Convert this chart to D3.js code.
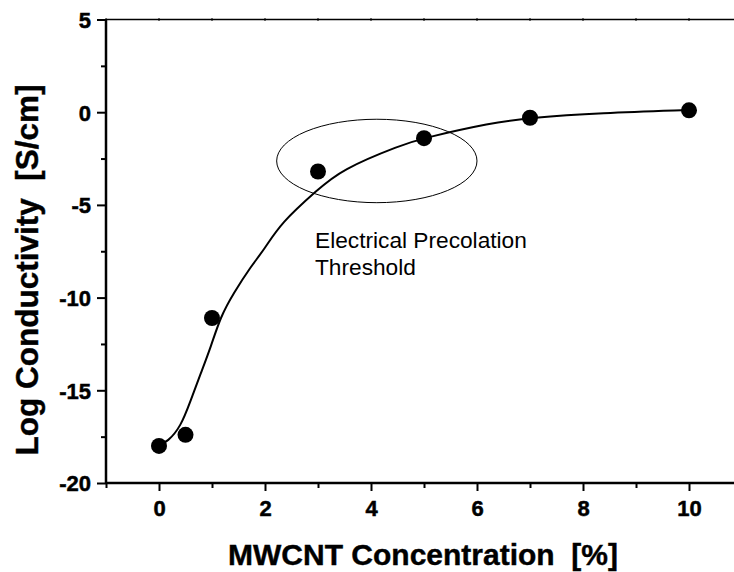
<!DOCTYPE html>
<html>
<head>
<meta charset="utf-8">
<script src="https://cdn.jsdelivr.net/npm/d3@7"></script>
<style>
  body { margin: 0; background: #fff; }
  svg { display: block; font-family: Arial, "Liberation Sans", sans-serif; }
</style>
</head>
<body>
<div id="chart"></div>
<script>
// Measured points
const conc = [0, 0.5, 1, 3, 5, 7, 10];
const logCond = [-18.0, -17.4, -11.1, -3.2, -1.4, -0.3, 0.1];

// Fitted curve
const fitX = [0, 0.16, 0.41, 0.60, 0.79, 0.98, 1.16, 1.41, 1.73, 1.98, 2.30, 2.99, 3.43, 4.57, 5.0, 6.26, 7.01, 8.33, 10.0];
const fitY = [-17.95, -17.78, -16.97, -15.53, -14.07, -12.65, -11.03, -9.75, -8.33, -7.43, -5.97, -4.19, -3.11, -1.76, -1.39, -0.58, -0.29, -0.04, 0.12];

// Tick values
const xMajor = [0, 2, 4, 6, 8, 10];
const xMinor = [-1, 1, 3, 5, 7, 9, 11];
const yMajor = [5, 0, -5, -10, -15, -20];
const yMinor = [2.5, -2.5, -7.5, -12.5, -17.5];

const width = 734, height = 572;
const fmt = d => String(d); // plain hyphen minus like the original

const x = d3.scaleLinear().domain([-1, 11]).range([106, 742]);
const y = d3.scaleLinear().domain([-20, 5]).range([483, 19.5]);

const svg = d3.select("#chart").append("svg")
    .attr("width", width)
    .attr("height", height);

// Top frame line with small ticks
svg.append("line")
    .attr("x1", x(-1)).attr("x2", x(11))
    .attr("y1", y(5)).attr("y2", y(5))
    .attr("stroke", "#000").attr("stroke-width", 1.5);
svg.append("g").selectAll("line")
    .data(xMajor.concat(xMinor))
    .join("line")
    .attr("x1", d => x(d)).attr("x2", d => x(d))
    .attr("y1", y(5) - 1.5).attr("y2", y(5) + 1.5)
    .attr("stroke", "#000").attr("stroke-width", 1);

// Bottom axis
const xAxis = svg.append("g")
    .attr("transform", `translate(0,${y(-20)})`)
    .call(d3.axisBottom(x).tickValues(xMajor).tickSize(8).tickPadding(12).tickFormat(fmt));
svg.append("g")
    .attr("transform", `translate(0,${y(-20)})`)
    .call(d3.axisBottom(x).tickValues(xMinor).tickSize(5).tickFormat(""))
    .call(g => g.select(".domain").remove());

// Left axis
const yAxis = svg.append("g")
    .attr("transform", `translate(${x(-1)},0)`)
    .call(d3.axisLeft(y).tickValues(yMajor).tickSize(9).tickPadding(6).tickFormat(fmt));
svg.append("g")
    .attr("transform", `translate(${x(-1)},0)`)
    .call(d3.axisLeft(y).tickValues(yMinor).tickSize(5).tickFormat(""))
    .call(g => g.select(".domain").remove());

svg.selectAll(".domain").attr("stroke-width", 2.5);
svg.selectAll(".tick line").attr("stroke-width", 2);
svg.selectAll(".tick text")
    .attr("fill", "#000")
    .attr("stroke", "#000")
    .attr("stroke-width", 0.5)
    .attr("font-size", 22)
    .attr("font-weight", "bold")
    .attr("font-family", "Arial, 'Liberation Sans', sans-serif");
xAxis.selectAll(".tick text").attr("dy", "0.6em");
yAxis.selectAll(".tick text").attr("dy", "0.36em");
xAxis.selectAll(".domain").attr("d", `M${x(-1)},0H${x(11)}`);
yAxis.selectAll(".domain").attr("d", `M0,${y(-20)}V${y(5)}`);

// Annotation ellipse
svg.append("ellipse")
    .attr("cx", x(4.11)).attr("cy", y(-2.63))
    .attr("rx", x(4.11) - x(2.22)).attr("ry", y(-4.88) - y(-2.63))
    .attr("fill", "none").attr("stroke", "#000").attr("stroke-width", 1);

// Fitted line
const line = d3.line()
    .x(d => x(d[0]))
    .y(d => y(d[1]))
    .curve(d3.curveBasis);
svg.append("path")
    .datum(fitX.map((v, i) => [v, fitY[i]]))
    .attr("d", line)
    .attr("fill", "none").attr("stroke", "#000").attr("stroke-width", 2);

// Points
svg.append("g").selectAll("circle")
    .data(conc.map((v, i) => [v, logCond[i]]))
    .join("circle")
    .attr("cx", d => x(d[0]))
    .attr("cy", d => y(d[1]))
    .attr("r", 8)
    .attr("fill", "#000");

// Annotation text
const note = svg.append("text")
    .attr("x", 315).attr("y", 248)
    .style("font-size", "22.7px");
note.append("tspan").attr("x", 315).text("Electrical Precolation");
note.append("tspan").attr("x", 315).attr("dy", 27).text("Threshold");

// Axis titles
svg.append("text")
    .attr("x", 423).attr("y", 565)
    .attr("text-anchor", "middle")
    .attr("stroke", "#000").attr("stroke-width", 0.4)
    .style("font-size", "30px").style("font-weight", "bold")
    .text("MWCNT Concentration\u00a0 [%]");

svg.append("text")
    .attr("transform", `translate(38,270) rotate(-90)`)
    .attr("text-anchor", "middle")
    .attr("stroke", "#000").attr("stroke-width", 0.4)
    .style("font-size", "31.5px").style("font-weight", "bold")
    .text("Log Conductivity\u00a0 [S/cm]");
</script>
</body>
</html>
